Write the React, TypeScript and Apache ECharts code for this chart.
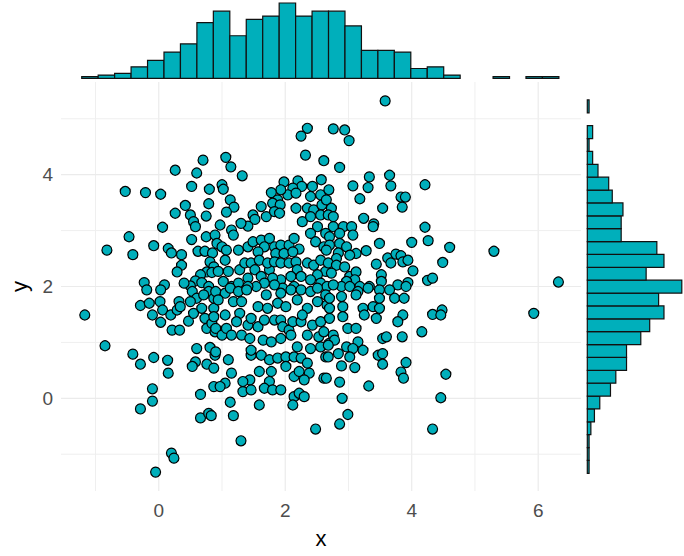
import React, { useEffect, useRef } from "react";
import * as echarts from "echarts";

// Scatter points [x, y]
const points: [number, number][] = [
  [0.70, 4.26], [0.26, 4.08], [0.60, 4.03], [0.52, 3.79], [0.80, 3.74], [-0.53, 3.70], [-0.21, 3.68], [0.03, 3.65],
  [0.42, 3.45], [0.79, 3.48], [0.26, 3.31], [0.50, 3.28], [0.75, 3.26], [0.55, 3.16], [0.58, 3.07], [0.06, 3.06],
  [-0.47, 2.89], [0.52, 2.84], [0.75, 2.89], [0.89, 2.92], [-0.82, 2.65], [-0.41, 2.57], [-0.08, 2.73], [0.15, 2.68],
  [0.20, 2.60], [0.36, 2.57], [0.36, 2.38], [0.29, 2.26], [0.62, 2.63], [0.73, 2.63], [0.85, 2.60], [0.81, 2.44],
  [0.87, 2.35], [0.76, 2.26], [0.84, 2.25], [0.66, 2.21], [0.58, 2.10], [0.50, 2.01], [0.68, 2.07], [0.79, 2.00],
  [0.40, 2.06], [-0.23, 2.07], [-0.19, 1.94], [0.09, 2.03], [0.03, 1.94],
  [-1.17, 1.49], [-0.29, 1.66], [-0.15, 1.70], [0.02, 1.73], [-0.10, 1.49], [0.06, 1.58], [0.03, 1.36], [0.19, 1.49],
  [0.29, 1.58], [0.32, 1.73], [0.34, 1.64], [0.21, 1.22], [0.33, 1.22], [0.47, 1.38], [0.53, 1.91], [0.60, 1.79],
  [0.50, 1.73], [0.55, 1.52], [0.68, 1.61], [0.73, 1.43], [0.76, 1.25], [0.84, 1.34], [0.87, 1.61], [0.79, 1.91],
  [0.71, 1.85], [0.87, 1.79], [0.89, 1.19], [-0.85, 0.94], [-0.41, 0.79], [-0.29, 0.61], [-0.08, 0.73], [0.14, 0.68],
  [0.15, 0.45], [0.60, 0.89], [0.81, 0.91], [0.58, 0.65], [0.53, 0.57], [0.76, 0.61], [0.87, 0.54], [0.89, 0.77],
  [-0.10, 0.17], [-0.10, -0.05], [-0.29, -0.19], [0.66, 0.07], [0.87, 0.21], [0.66, -0.35], [0.79, -0.27], [0.83, -0.31],
  [0.20, -0.98], [0.24, -1.07], [-0.05, -1.32],
  [2.35, 4.83], [2.25, 4.69], [2.76, 4.82], [2.32, 4.35], [2.61, 4.25], [1.06, 4.31], [1.14, 4.14], [1.32, 3.98],
  [1.98, 3.87], [2.20, 3.89], [2.26, 3.79], [2.12, 3.76], [2.04, 3.64], [2.17, 3.67], [1.93, 3.73], [1.78, 3.68],
  [1.88, 3.55], [1.80, 3.49], [1.92, 3.46], [2.57, 3.91], [2.43, 3.79], [2.56, 3.64], [2.40, 3.61], [2.69, 3.73],
  [1.00, 3.82], [1.02, 3.74], [1.13, 3.55], [1.19, 3.42], [1.07, 3.33], [1.62, 3.43], [1.49, 3.28], [1.52, 3.20],
  [1.41, 3.08], [1.30, 3.13], [1.70, 3.25], [1.83, 3.34], [1.91, 3.31], [2.17, 3.40], [2.35, 3.40], [2.45, 3.37],
  [2.58, 3.46], [2.27, 3.16], [2.40, 3.25], [2.56, 3.28], [0.97, 3.10], [1.15, 3.01], [1.18, 2.92], [2.51, 3.07],
  [2.40, 2.95], [2.64, 2.95], [2.48, 2.80], [0.92, 2.77], [1.00, 2.71], [1.07, 2.65], [1.26, 2.65], [1.41, 2.71],
  [1.49, 2.80], [1.62, 2.83], [1.75, 2.86], [1.67, 2.71], [1.57, 2.62], [1.83, 2.71], [1.93, 2.74], [2.06, 2.74],
  [2.14, 2.86], [2.22, 2.67], [1.85, 2.59], [1.98, 2.59], [2.12, 2.62], [2.61, 2.71], [1.05, 2.47], [0.94, 2.27],
  [1.10, 2.27], [1.02, 2.09], [1.15, 2.00], [1.28, 2.30], [1.36, 2.42], [1.46, 2.42], [1.59, 2.47], [1.52, 2.30],
  [1.41, 2.15], [1.62, 2.18], [1.75, 2.30], [1.72, 2.42], [1.83, 2.44], [1.93, 2.42], [2.06, 2.42], [2.17, 2.44],
  [2.19, 2.30], [2.09, 2.18], [1.93, 2.12], [1.80, 2.15], [1.67, 2.06], [1.54, 2.00], [1.41, 2.00], [1.26, 2.06],
  [1.96, 1.97], [2.14, 2.00], [2.25, 2.18], [2.35, 2.42], [2.45, 2.38], [2.56, 2.47], [2.64, 2.27], [2.51, 2.21],
  [2.40, 2.12], [2.56, 2.06], [2.66, 2.00],
  [0.90, 1.91], [1.05, 1.88], [1.13, 1.97], [1.26, 1.91], [1.39, 1.94], [1.70, 1.85], [1.83, 2.03], [1.93, 1.88],
  [2.09, 1.94], [2.25, 1.94], [2.40, 1.91], [2.51, 1.97], [2.64, 1.85], [0.94, 1.76], [1.18, 1.73], [1.31, 1.73],
  [1.57, 1.64], [1.72, 1.61], [1.88, 1.70], [2.01, 1.64], [2.19, 1.76], [2.35, 1.61], [2.51, 1.73], [2.66, 1.67],
  [0.87, 1.46], [1.05, 1.49], [1.28, 1.52], [1.23, 1.37], [1.41, 1.31], [1.46, 1.43], [1.57, 1.28], [1.67, 1.40],
  [1.83, 1.40], [1.93, 1.40], [1.96, 1.28], [2.06, 1.22], [2.12, 1.37], [2.25, 1.37], [2.27, 1.49], [2.35, 1.13],
  [2.43, 1.31], [2.56, 1.37], [2.53, 1.10], [2.61, 1.19], [0.90, 1.25], [1.00, 1.13], [1.07, 1.25], [1.15, 1.13],
  [1.31, 1.13], [1.44, 1.07], [1.65, 1.04], [1.78, 1.01], [1.93, 1.07], [2.09, 1.13], [2.19, 0.92], [2.40, 0.89],
  [2.56, 0.92], [2.69, 0.98], [0.90, 0.83], [1.10, 0.69], [1.46, 0.77], [1.62, 0.77], [1.75, 0.69], [1.88, 0.72],
  [2.01, 0.74], [2.14, 0.74], [2.25, 0.72], [2.35, 0.63], [2.64, 0.74], [1.46, 0.86], [1.15, 0.45], [1.59, 0.48],
  [1.78, 0.48], [2.01, 0.57], [2.14, 0.39], [2.22, 0.48], [2.38, 0.45], [2.30, 0.33], [2.61, 0.36], [1.75, 0.30],
  [1.44, 0.33], [1.33, 0.30], [1.05, 0.27], [0.97, 0.21], [1.33, 0.12], [1.46, 0.15], [1.67, 0.18], [1.80, 0.15],
  [1.93, 0.15], [2.14, 0.03], [2.22, 0.09], [2.30, 0.03], [2.12, -0.12], [1.13, -0.07], [1.18, -0.31], [1.59, -0.12],
  [1.30, -0.76], [2.48, -0.55],
  [3.58, 5.32], [2.94, 4.80], [3.01, 4.61], [2.86, 4.13], [3.33, 3.96], [3.31, 3.77], [3.07, 3.80], [3.65, 3.99],
  [3.67, 3.80], [4.21, 3.82], [3.18, 3.57], [3.83, 3.60], [3.90, 3.60], [3.85, 3.42], [3.54, 3.40], [2.65, 3.55],
  [2.73, 3.40], [2.68, 3.28], [2.76, 3.25], [3.24, 3.22], [3.40, 3.12], [3.39, 3.07], [4.21, 3.06], [4.26, 2.82],
  [4.00, 2.79], [4.60, 2.70], [4.49, 2.43], [2.76, 3.07], [2.92, 3.07], [3.05, 3.07], [3.07, 2.92], [2.86, 2.95],
  [2.70, 2.89], [2.86, 2.77], [2.70, 2.74], [2.97, 2.71], [2.65, 2.65], [3.49, 2.77], [3.28, 2.64], [3.12, 2.59],
  [3.02, 2.56], [2.84, 2.60], [2.81, 2.50], [2.68, 2.42], [3.44, 2.40], [3.62, 2.51], [3.75, 2.58], [3.83, 2.55],
  [3.86, 2.44], [3.94, 2.47], [3.67, 2.42], [4.02, 2.28], [3.52, 2.21], [3.52, 2.09], [3.78, 2.03], [3.94, 2.07],
  [4.25, 2.11], [4.33, 2.15], [3.33, 2.00], [2.81, 2.38], [2.73, 2.24], [2.94, 2.35], [3.02, 2.18], [3.12, 2.26],
  [3.10, 2.12], [2.97, 2.09], [2.89, 2.00], [2.76, 2.03], [3.18, 2.00],
  [3.02, 2.00], [3.15, 1.91], [3.31, 1.97], [3.49, 1.94], [3.65, 1.94], [3.91, 2.00], [2.70, 1.79], [2.89, 1.82],
  [3.12, 1.85], [3.49, 1.79], [3.73, 1.79], [3.88, 1.79], [2.70, 1.61], [2.91, 1.64], [3.23, 1.61], [3.39, 1.64],
  [3.49, 1.61], [2.70, 1.43], [2.91, 1.46], [3.25, 1.49], [3.44, 1.43], [3.86, 1.49], [3.78, 1.37], [4.33, 1.50],
  [4.48, 1.58], [4.46, 1.49], [4.16, 1.19], [2.99, 1.25], [3.12, 1.25], [2.76, 1.13], [2.78, 1.04], [2.68, 0.95],
  [2.97, 0.92], [3.15, 1.01], [3.23, 0.86], [3.07, 0.89], [2.84, 0.80], [3.02, 0.74], [2.68, 0.74], [3.54, 1.07],
  [3.60, 1.10], [3.85, 1.10], [3.47, 0.77], [3.54, 0.80], [3.54, 0.61], [3.91, 0.64], [3.83, 0.47], [3.87, 0.36],
  [2.89, 0.58], [3.10, 0.55], [2.65, 0.36], [2.86, 0.29], [3.32, 0.22], [4.54, 0.43], [4.46, 0.01], [2.90, 0.00],
  [2.99, -0.29], [2.86, -0.46], [4.33, -0.55],
  [5.30, 2.63], [6.32, 2.08], [5.93, 1.52],
];

// Marginal histogram of x (29 bins)
const topBinStart = -1.173;
const topBinWidth = 0.2587;
const topCounts = [1, 2, 3, 7, 11, 16, 21, 34, 41, 26, 36, 38, 46, 38, 41, 41, 32, 17, 17, 16, 6, 7, 2, 0, 0, 1, 0, 1, 1];

// Marginal histogram of y (29 bins, from bottom to top)
const rightBinStart = -1.342;
const rightBinWidth = 0.2303;
const rightCounts = [1, 1, 1, 2, 4, 7, 13, 16, 22, 22, 30, 35, 43, 40, 53, 33, 43, 39, 19, 19, 20, 14, 12, 6, 3, 1, 3, 0, 1];

const xTickLabels = [0, 2, 4, 6];
const yTickLabels = [0, 2, 4];
const xGridValues = [-1, 0, 1, 2, 3, 4, 5, 6];
const yGridValues = [-1, 0, 1, 2, 3, 4, 5];

const X_MIN = -1.546;
const X_MAX = 6.677;
const Y_MIN = -1.658;
const Y_MAX = 5.658;

const FILL = "#00AFBB";
const FONT = "'Liberation Sans', Arial, sans-serif";

export default function App() {
  const ref = useRef<HTMLDivElement>(null);
  useEffect(() => {
    if (!ref.current) return;
    const chart = echarts.init(ref.current, undefined, { renderer: "svg" });

    const topData = topCounts
      .map((c, i) => [topBinStart + i * topBinWidth, topBinStart + (i + 1) * topBinWidth, c])
      .filter((d) => d[2] > 0);
    const rightData = rightCounts
      .map((c, i) => [rightBinStart + i * rightBinWidth, rightBinStart + (i + 1) * rightBinWidth, c])
      .filter((d) => d[2] > 0);

    const gridLineStyle = (v: number, majors: number[]) => ({
      stroke: majors.includes(v) ? "#EBEBEB" : "#EFEFEF",
      lineWidth: majors.includes(v) ? 1.2 : 1,
    });

    chart.setOption({
      animation: false,
      backgroundColor: "#FFFFFF",
      textStyle: { fontFamily: FONT },
      grid: [
        { left: 58, top: 82, width: 523, height: 409 },
        { left: 58, top: 3, width: 523, height: 75.3 },
        { left: 587.3, top: 82, width: 94.5, height: 409 },
      ],
      xAxis: [
        {
          gridIndex: 0,
          type: "value",
          min: X_MIN,
          max: X_MAX,
          name: "x",
          nameLocation: "middle",
          nameGap: 36,
          nameTextStyle: { fontSize: 22, color: "#000000", fontFamily: FONT },
          axisLine: { show: false },
          axisTick: { show: false },
          splitLine: { show: false },
          axisLabel: {
            customValues: xTickLabels,
            fontSize: 19,
            color: "#4D4D4D",
            margin: 10,
            fontFamily: FONT,
          },
        },
        { gridIndex: 1, type: "value", min: X_MIN, max: X_MAX, show: false },
        { gridIndex: 2, type: "value", min: 0, max: 53, show: false },
      ],
      yAxis: [
        {
          gridIndex: 0,
          type: "value",
          min: Y_MIN,
          max: Y_MAX,
          name: "y",
          nameLocation: "middle",
          nameGap: 31,
          nameRotate: 90,
          nameTextStyle: { fontSize: 22, color: "#000000", fontFamily: FONT },
          axisLine: { show: false },
          axisTick: { show: false },
          splitLine: { show: false },
          axisLabel: {
            customValues: yTickLabels,
            fontSize: 19,
            color: "#4D4D4D",
            margin: 8,
            fontFamily: FONT,
          },
        },
        { gridIndex: 1, type: "value", min: 0, max: 46, show: false },
        { gridIndex: 2, type: "value", min: Y_MIN, max: Y_MAX, show: false },
      ],
      series: [
        {
          type: "custom",
          xAxisIndex: 0,
          yAxisIndex: 0,
          silent: true,
          z: 0,
          data: xGridValues.map((v) => [v, 0]),
          encode: { x: 0, y: 1 },
          renderItem: (_p: any, api: any) => {
            const v = api.value(0);
            const a = api.coord([v, Y_MIN]);
            const b = api.coord([v, Y_MAX]);
            return {
              type: "line",
              shape: { x1: a[0], y1: a[1], x2: b[0], y2: b[1] },
              style: gridLineStyle(v, xTickLabels),
            };
          },
        },
        {
          type: "custom",
          xAxisIndex: 0,
          yAxisIndex: 0,
          silent: true,
          z: 0,
          data: yGridValues.map((v) => [0, v]),
          encode: { x: 0, y: 1 },
          renderItem: (_p: any, api: any) => {
            const v = api.value(1);
            const a = api.coord([X_MIN, v]);
            const b = api.coord([X_MAX, v]);
            return {
              type: "line",
              shape: { x1: a[0], y1: a[1], x2: b[0], y2: b[1] },
              style: gridLineStyle(v, yTickLabels),
            };
          },
        },
        {
          type: "scatter",
          xAxisIndex: 0,
          yAxisIndex: 0,
          z: 3,
          data: points,
          symbol: "circle",
          symbolSize: 10,
          itemStyle: { color: FILL, borderColor: "#000000", borderWidth: 1.2, opacity: 1 },
          emphasis: { disabled: true },
        },
        {
          type: "custom",
          xAxisIndex: 1,
          yAxisIndex: 1,
          data: topData,
          encode: { x: [0, 1], y: 2 },
          renderItem: (_p: any, api: any) => {
            const a = api.coord([api.value(0), api.value(2)]);
            const b = api.coord([api.value(1), 0]);
            return {
              type: "rect",
              shape: { x: a[0], y: a[1], width: b[0] - a[0], height: b[1] - a[1] },
              style: { fill: FILL, stroke: "#111111", lineWidth: 1.2 },
            };
          },
        },
        {
          type: "custom",
          xAxisIndex: 2,
          yAxisIndex: 2,
          data: rightData,
          encode: { y: [0, 1], x: 2 },
          renderItem: (_p: any, api: any) => {
            const a = api.coord([0, api.value(1)]);
            const b = api.coord([api.value(2), api.value(0)]);
            return {
              type: "rect",
              shape: { x: a[0], y: a[1], width: b[0] - a[0], height: b[1] - a[1] },
              style: { fill: FILL, stroke: "#111111", lineWidth: 1.2 },
            };
          },
        },
      ],
    });
    return () => chart.dispose();
  }, []);

  return (
    <div
      ref={ref}
      style={{ position: "fixed", left: 0, top: 0, width: 684, height: 556, background: "#fff" }}
    />
  );
}
